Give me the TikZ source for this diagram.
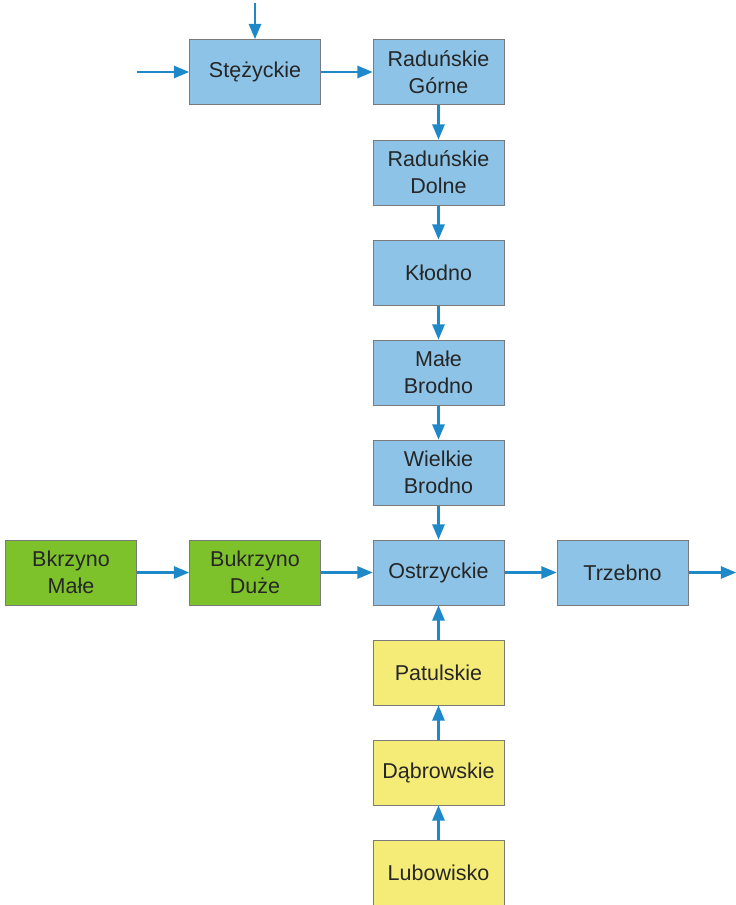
\documentclass[tikz,border=0pt]{standalone}
\usepackage{fontspec}
\setmainfont{Liberation Sans}
\usepackage{tikz}
\usetikzlibrary{arrows,positioning}

\definecolor{lakeblue}{HTML}{8CC3E6}
\definecolor{lakegreen}{HTML}{7DC22A}
\definecolor{lakeyellow}{HTML}{F5EC78}
\definecolor{flow}{HTML}{1E88C8}
\definecolor{edge}{HTML}{7A7A7A}

\begin{document}
\begin{tikzpicture}[x=1pt,y=-1pt,->,>=triangle 45,
  lake/.style={rectangle,draw=edge,line width=1pt,minimum width=131pt,
    minimum height=65pt,inner sep=0pt,align=center,text=black!85,
    font=\fontsize{21.5}{27}\selectfont},
  blue lake/.style={lake,fill=lakeblue},
  green lake/.style={lake,fill=lakegreen},
  yellow lake/.style={lake,fill=lakeyellow},
  flowline/.style={flow,line width=2.6pt}]

  \useasboundingbox (0,0) rectangle (736,905);

  % main chain
  \node[blue lake] at (255,72) (stez) {Stężyckie};
  \node[blue lake] at (438.5,72) (radg) {Raduńskie\\Górne};
  \node[blue lake] at (438.5,172.5) (radd) {Raduńskie\\Dolne};
  \node[blue lake] at (438.5,272.5) (klod) {Kłodno};
  \node[blue lake] at (438.5,372.5) (mbro) {Małe\\Brodno};
  \node[blue lake] at (438.5,472.5) (wbro) {Wielkie\\Brodno};
  \node[blue lake] at (438.5,572.5) (ostr) {Ostrzyckie};
  \node[blue lake] at (622.5,572.5) (trze) {Trzebno};

  % side branches
  \node[green lake] at (71,572.5) (bkm) {Bkrzyno\\Małe};
  \node[green lake] at (255,572.5) (bkd) {Bukrzyno\\Duże};
  \node[yellow lake] at (438.5,672.5) (patu) {Patulskie};
  \node[yellow lake] at (438.5,772.5) (dabr) {Dąbrowskie};
  \node[yellow lake] at (438.5,872.5) (lubo) {Lubowisko};

  \coordinate (intop) at (255,3);
  \coordinate (inleft) at (137,72);
  \coordinate (out) at (736,572.5);

  \draw[flowline] (intop) -- (stez);
  \draw[flowline] (inleft) -- (stez);
  \draw[flowline] (stez) -- (radg);
  \draw[flowline] (radg) -- (radd);
  \draw[flowline] (radd) -- (klod);
  \draw[flowline] (klod) -- (mbro);
  \draw[flowline] (mbro) -- (wbro);
  \draw[flowline] (wbro) -- (ostr);
  \draw[flowline] (bkm) -- (bkd);
  \draw[flowline] (bkd) -- (ostr);
  \draw[flowline] (lubo) -- (dabr);
  \draw[flowline] (dabr) -- (patu);
  \draw[flowline] (patu) -- (ostr);
  \draw[flowline] (ostr) -- (trze);
  \draw[flowline] (trze) -- (out);
\end{tikzpicture}
\end{document}
